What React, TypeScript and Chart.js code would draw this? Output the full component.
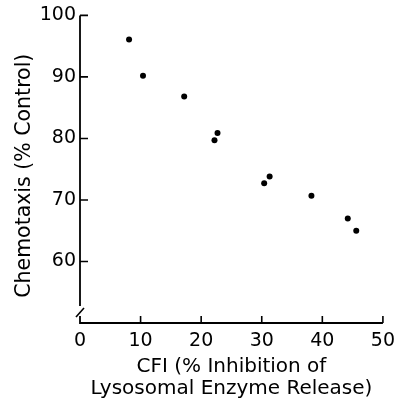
import React, { useEffect, useRef } from "react";
import { Chart, registerables } from "chart.js";

Chart.register(...registerables);

const cfiInhibition = [8.1, 10.4, 17.2, 22.7, 22.2, 31.3, 30.4, 38.2, 44.2, 45.6];
const chemotaxis = [96.1, 90.2, 86.8, 80.9, 79.7, 73.8, 72.7, 70.7, 67.0, 65.0];
const xTickValues = [0, 10, 20, 30, 40, 50];
const yTickValues = [60, 70, 80, 90, 100];
const xTitle = ["CFI (% Inhibition of", "Lysosomal Enzyme Release)"];
const yTitle = "Chemotaxis (% Control)  ";

const FONT = "'DejaVu Sans', 'Liberation Sans', Arial, sans-serif";

const axesPlugin = {
  id: "customAxes",
  afterDraw(chart: any) {
    const { ctx, chartArea: a, scales } = chart;
    const xs = scales.x;
    const ys = scales.y;
    ctx.save();
    ctx.strokeStyle = "#000";
    ctx.lineWidth = 1.8;
    ctx.lineCap = "butt";
    ctx.beginPath();
    ctx.moveTo(a.left, a.top);
    ctx.lineTo(a.left, a.bottom - 17);
    ctx.moveTo(a.left, a.bottom - 7);
    ctx.lineTo(a.left, a.bottom);
    ctx.lineTo(a.right, a.bottom);
    ctx.stroke();
    // axis break mark
    ctx.lineWidth = 1.6;
    ctx.beginPath();
    ctx.moveTo(a.left - 4, a.bottom - 6);
    ctx.lineTo(a.left + 4, a.bottom - 15);
    ctx.stroke();
    // inward ticks
    ctx.lineWidth = 1.6;
    ctx.beginPath();
    for (const v of yTickValues) {
      const py = ys.getPixelForValue(v);
      ctx.moveTo(a.left, py);
      ctx.lineTo(a.left + 8, py);
    }
    for (const v of xTickValues) {
      if (v === 0) continue;
      const px = xs.getPixelForValue(v);
      ctx.moveTo(px, a.bottom);
      ctx.lineTo(px, a.bottom - 7);
    }
    ctx.stroke();
    ctx.restore();
  },
};

export default function App() {
  const ref = useRef<HTMLCanvasElement | null>(null);
  useEffect(() => {
    if (!ref.current) return;
    const chart = new Chart(ref.current, {
      type: "scatter",
      data: {
        datasets: [
          {
            data: cfiInhibition.map((x, i) => ({ x, y: chemotaxis[i] })),
            pointRadius: 3,
            pointBackgroundColor: "#000",
            pointBorderWidth: 0,
            showLine: false,
          },
        ],
      },
      options: {
        animation: false,
        responsive: false,
        devicePixelRatio: 1,
        layout: { padding: { top: 15, right: 14, left: 0, bottom: 0 } },
        plugins: { legend: { display: false }, tooltip: { enabled: false } },
        scales: {
          x: {
            type: "linear",
            min: 0,
            max: 50,
            afterBuildTicks: (s: any) => {
              s.ticks = xTickValues.map((v) => ({ value: v }));
            },
            afterFit: (s: any) => {
              s.height = 77;
            },
            grid: { display: false, drawTicks: false },
            border: { display: false },
            ticks: {
              font: { family: FONT, size: 19 },
              color: "#000",
              padding: 7,
              maxRotation: 0,
              autoSkip: false,
            },
            title: {
              display: true,
              text: xTitle,
              color: "#000",
              font: { family: FONT, size: 20, lineHeight: 1.12 },
              padding: { top: 0, bottom: 0 },
            },
          },
          y: {
            type: "linear",
            min: 50,
            max: 100,
            afterBuildTicks: (s: any) => {
              s.ticks = yTickValues.map((v) => ({ value: v }));
            },
            afterFit: (s: any) => {
              s.width = 80;
            },
            grid: { display: false, drawTicks: false },
            border: { display: false },
            ticks: {
              font: { family: FONT, size: 19 },
              color: "#000",
              padding: 4,
              autoSkip: false,
            },
            title: {
              display: true,
              text: yTitle,
              color: "#000",
              font: { family: FONT, size: 20.5, lineHeight: 1.2 },
              padding: { top: 12, bottom: 0 },
            },
          },
        },
      },
      plugins: [axesPlugin],
    });
    return () => chart.destroy();
  }, []);
  return (
    <div style={{ position: "absolute", left: 0, top: 0, width: 402, height: 400, background: "#fff" }}>
      <canvas ref={ref} width={402} height={400} />
    </div>
  );
}
